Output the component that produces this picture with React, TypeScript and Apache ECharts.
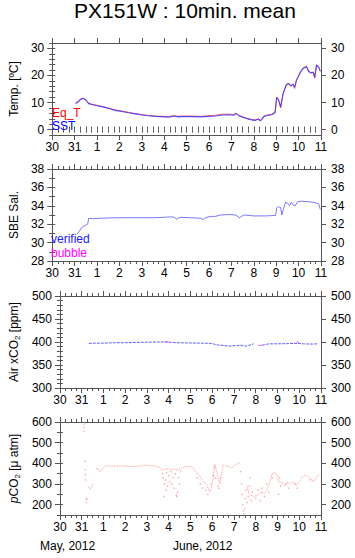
import React, { useEffect, useRef } from 'react';
import * as echarts from 'echarts';

// ---- labels ----
const titleText = 'PX151W : 10min. mean';
const dayLabels = ['30', '31', '1', '2', '3', '4', '5', '6', '7', '8', '9', '10', '11'];
const monthLabels = ['May, 2012', 'June, 2012'];
const tempTicks = [0, 10, 20, 30];
const salTicks = [28, 30, 32, 34, 36, 38];
const airTicks = [300, 350, 400, 450, 500];
const pco2Ticks = [200, 300, 400, 500, 600];

// ---- data: [days since May 30 00:00, value] ----
const sstData: [number, number][] = [
  [1.04, 9.6], [1.15, 10.2], [1.25, 11.0], [1.35, 11.5], [1.45, 11.2], [1.55, 10.5], [1.62, 9.6],
  [1.8, 9.2], [2.0, 8.8], [2.3, 8.3], [2.6, 7.6], [2.8, 7.1], [3.1, 6.7], [3.4, 6.2], [3.7, 5.8],
  [4.0, 5.4], [4.3, 5.1], [4.6, 4.9], [5.0, 4.7], [5.2, 4.6], [5.45, 5.0], [5.6, 4.7], [5.8, 4.8],
  [6.2, 4.8], [6.6, 4.7], [7.0, 4.9], [7.3, 5.0], [7.6, 5.4], [7.9, 5.5], [8.1, 5.3], [8.2, 6.0],
  [8.35, 5.0], [8.5, 4.6], [8.7, 4.0], [8.9, 3.6], [9.05, 3.4], [9.2, 3.8], [9.3, 3.2], [9.45, 4.8],
  [9.6, 5.2], [9.8, 5.5], [9.95, 6.2], [10.02, 11.8], [10.1, 11.2], [10.2, 8.4], [10.3, 13.0],
  [10.45, 16.5], [10.55, 17.0], [10.65, 16.2], [10.75, 16.8], [10.82, 15.6], [10.9, 18.0],
  [11.0, 19.8], [11.1, 21.5], [11.22, 22.7], [11.35, 23.2], [11.45, 21.5], [11.55, 21.0],
  [11.65, 21.2], [11.72, 19.3], [11.8, 23.8], [11.9, 23.0], [11.97, 21.5],
];
const eqTData: [number, number][] = [
  [1.04, 9.8], [1.15, 10.4], [1.25, 11.2], [1.35, 11.6], [1.45, 11.4], [1.55, 10.6], [1.62, 9.8],
  [1.8, 9.3], [2.0, 9.0], [2.3, 8.4], [2.6, 7.8], [2.8, 7.3], [3.1, 6.9], [3.4, 6.4], [3.7, 5.9],
  [4.0, 5.6], [4.3, 5.2], [4.6, 5.0], [5.0, 4.9], [5.2, 4.8], [5.45, 5.2], [5.6, 4.9], [5.8, 5.0],
  [6.2, 5.0], [6.6, 4.9], [7.0, 5.1], [7.3, 5.3], [7.6, 5.7], [7.9, 5.7], [8.1, 5.5], [8.2, 6.1],
  [8.35, 5.2], [8.5, 4.7], [8.7, 4.1], [8.9, 3.8], [9.05, 3.5], [9.2, 4.0], [9.3, 3.4], [9.45, 5.0],
  [9.6, 5.4], [9.8, 5.7], [9.95, 6.4], [10.02, 12.0], [10.1, 11.0], [10.2, 8.0], [10.3, 13.2],
  [10.45, 16.7], [10.55, 17.2], [10.65, 16.0], [10.75, 16.9], [10.82, 15.2], [10.9, 18.2],
  [11.0, 20.0], [11.1, 21.6], [11.22, 22.9], [11.35, 23.4], [11.45, 21.7], [11.55, 20.8],
  [11.65, 21.3], [11.72, 19.0], [11.8, 24.0], [11.9, 23.2], [11.97, 21.6],
];
const salData: [number, number][] = [
  [1.1, 30.9], [1.2, 31.2], [1.3, 31.6], [1.4, 31.8], [1.5, 31.9], [1.58, 32.0], [1.63, 32.65],
  [1.8, 32.6], [2.2, 32.65], [2.8, 32.7], [3.5, 32.7], [4.0, 32.7], [4.5, 32.7], [5.0, 32.75],
  [5.3, 32.8], [5.45, 32.75], [5.55, 32.55], [5.7, 32.75], [6.2, 32.7], [6.6, 32.65], [6.75, 32.5],
  [6.85, 32.7], [7.05, 32.85], [7.3, 32.85], [7.5, 33.0], [7.9, 33.05], [8.2, 33.0], [8.35, 32.7],
  [8.45, 32.85], [8.6, 33.0], [9.0, 32.9], [9.5, 32.9], [9.97, 32.95], [10.03, 33.8], [10.1, 33.9],
  [10.2, 33.8], [10.25, 33.0], [10.32, 33.6], [10.42, 34.4], [10.5, 34.3], [10.6, 34.0],
  [10.68, 34.4], [10.75, 34.1], [10.85, 34.0], [10.95, 34.45], [11.15, 34.5], [11.4, 34.45],
  [11.6, 34.4], [11.8, 34.3], [11.9, 34.2], [11.97, 33.6],
];
const airData: [number, number | null][] = [
  [1.33, 397], [1.6, 397.5], [2.0, 397.5], [2.5, 398.5], [3.0, 398.5], [3.5, 399], [4.0, 399.5],
  [4.5, 400], [4.9, 400], [5.3, 398.5], [5.8, 398], [6.5, 397.5], [7.0, 397], [7.15, 394],
  [7.4, 393], [7.8, 391], [8.0, 392], [8.3, 393], [8.55, 391], [8.7, 393], [8.9, 396],
  [9.05, null], [9.3, 393], [9.4, 394], [9.6, 396], [10.0, 396], [10.5, 396.5], [10.9, 397],
  [11.2, 396], [11.6, 395.5], [11.85, 396],
];
const airBubble: [number, number | null][] = [
  [4.82, 400.5], [4.9, 401], [5.0, 400.5], [5.02, null],
  [9.12, 393], [9.2, 392], [9.3, 393.5], [9.32, null],
  [10.88, 398], [10.93, 401], [10.98, 398],
];
const pco2Line: [number, number | null][] = [
  [1.3, 285], [1.38, 275], [1.45, 285], [1.52, 300], [1.58, null],
  [1.66, 375], [1.75, 374], [1.85, 358], [1.95, 372], [2.05, 384], [2.15, 388], [2.4, 386],
  [2.7, 388], [3.0, 387], [3.3, 384], [3.6, 386], [3.85, 391], [4.1, 388], [4.4, 387], [4.6, 381],
  [4.7, 365], [4.85, 372], [5.0, 375], [5.1, 370], [5.3, 372], [5.45, 368], [5.6, 378], [5.75, 383],
  [5.9, 385], [6.1, 383], [6.24, 359], [6.39, 343], [6.5, 325], [6.61, 310], [6.75, 294],
  [6.82, 275], [6.9, 261], [7.0, 300], [7.12, 395], [7.2, 360], [7.3, 320], [7.35, 300],
  [7.42, 350], [7.5, 390], [7.7, 387], [7.9, 378], [8.05, 392], [8.2, 400], [8.3, 405], [8.33, null],
  [8.6, 290], [8.7, 250], [8.9, 240], [9.1, 245], [9.25, 260], [9.4, 255], [9.55, 280], [9.68, 320],
  [9.76, 350], [9.9, 355], [10.0, 340], [10.05, 310], [10.2, 310], [10.34, 290], [10.49, 310],
  [10.6, 300], [10.71, 310], [10.86, 295], [11.0, 310], [11.1, 330], [11.22, 343], [11.35, 338],
  [11.44, 335], [11.55, 325], [11.66, 310], [11.75, 325], [11.88, 343], [11.97, 335],
];
const pco2Scatter: [number, number][] = [
  [1.1, 590], [1.1, 575], [1.11, 555], [1.15, 410], [1.17, 370], [1.17, 345], [1.18, 320],
  [1.2, 230], [1.22, 210], [1.25, 225],
  [4.72, 350], [4.75, 330], [4.78, 240], [4.8, 300], [4.85, 320], [4.88, 270], [4.9, 355],
  [4.95, 290], [5.0, 340], [5.05, 310], [5.1, 360], [5.15, 300], [5.2, 330], [5.25, 280],
  [5.3, 350], [5.35, 245], [5.37, 240], [5.4, 260], [5.45, 330], [5.5, 300], [5.55, 360],
  [6.3, 330], [6.45, 300], [6.55, 280], [6.7, 270], [6.8, 250], [6.95, 300], [7.05, 340],
  [7.1, 380], [7.15, 330], [7.25, 290], [7.3, 280], [7.4, 330],
  [8.3, 360], [8.35, 300], [8.38, 250], [8.4, 200], [8.42, 170], [8.45, 155], [8.5, 180],
  [8.52, 230], [8.55, 270], [8.6, 210], [8.65, 240], [8.7, 290], [8.75, 330], [8.8, 220],
  [8.85, 260], [9.0, 230], [9.1, 270], [9.2, 220], [9.3, 280], [9.4, 240], [9.5, 300], [9.6, 260],
  [9.75, 330], [10.05, 250], [10.1, 330], [10.15, 290], [10.4, 300], [10.5, 280], [10.8, 300],
  [10.9, 280], [11.5, 320],
];

const FONT = '"Liberation Sans", Arial, Helvetica, sans-serif';
const AX = '#555';

function range(a: number, b: number, s: number) {
  const r: number[] = [];
  for (let v = a; v <= b + 1e-9; v += s) r.push(Math.round(v * 1000) / 1000);
  return r;
}

const grids = [
  { top: 43, height: 92 },
  { top: 169, height: 92 },
  { top: 296, height: 92 },
  { top: 422, height: 93 },
];

const yDefs = [
  { min: -2, max: 32, major: tempTicks, minor: range(-2, 32, 2), name: 'Temp. [ºC]' },
  { min: 28, max: 38, major: salTicks, minor: range(28, 38, 1), name: 'SBE Sal.' },
  { min: 300, max: 500, major: airTicks, minor: range(300, 500, 10), name: 'Air xCO{sub|2} [ppm]' },
  { min: 150, max: 600, major: pco2Ticks, minor: range(150, 600, 50), name: '{it|p}CO{sub|2} [μ atm]' },
];

export default function App() {
  const ref = useRef<HTMLDivElement>(null);
  useEffect(() => {
    if (!ref.current) return;
    const chart = echarts.init(ref.current, null, { renderer: 'svg' });
    const majorDays = range(0, 12, 1);
    const minorDays = range(0, 12, 0.25);
    const xAxis: any[] = [];
    const yAxis: any[] = [];
    const lineStyle = { color: AX, width: 1 };
    grids.forEach((g, gi) => {
      (['bottom', 'top'] as const).forEach((pos) => {
        xAxis.push({
          type: 'value', gridIndex: gi, position: pos, min: 0, max: 12,
          axisLine: { show: true, onZero: false, lineStyle },
          axisTick: { show: true, customValues: majorDays, length: 5, lineStyle },
          axisLabel: {
            show: pos === 'bottom', customValues: majorDays, margin: 6,
            formatter: (v: number) => dayLabels[Math.round(v)] ?? '',
            color: '#000', fontFamily: FONT, fontSize: 12,
          },
          splitLine: { show: false },
        });
        xAxis.push({
          type: 'value', gridIndex: gi, position: pos, min: 0, max: 12,
          axisLine: { show: false },
          axisTick: { show: true, customValues: minorDays, length: 3, lineStyle },
          axisLabel: { show: false },
          splitLine: { show: false },
        });
      });
      const d = yDefs[gi];
      (['left', 'right'] as const).forEach((pos) => {
        yAxis.push({
          type: 'value', gridIndex: gi, position: pos, min: d.min, max: d.max,
          axisLine: { show: true, onZero: false, lineStyle },
          axisTick: { show: true, customValues: d.major, length: 5, lineStyle },
          axisLabel: {
            show: true, customValues: d.major, margin: pos === 'left' ? 8 : 10,
            color: '#000', fontFamily: FONT, fontSize: 12,
          },
          splitLine: { show: false },
          name: pos === 'left' ? d.name : '',
          nameLocation: 'middle', nameGap: 31, nameRotate: 90,
          nameTextStyle: {
            color: '#000', fontFamily: FONT, fontSize: 12,
            rich: {
              sub: { fontSize: 8, fontFamily: FONT, color: '#000', padding: [6, 0, 0, 0] },
              it: { fontSize: 12, fontFamily: FONT, color: '#000', fontStyle: 'italic' },
            },
          },
        });
        yAxis.push({
          type: 'value', gridIndex: gi, position: pos, min: d.min, max: d.max,
          axisLine: { show: false },
          axisTick: { show: true, customValues: d.minor, length: 3, lineStyle },
          axisLabel: { show: false },
          splitLine: { show: false },
        });
      });
    });

    const ln = (gi: number, data: any[], color: string, width = 1, opacity = 1, z = 2, type: any = 'solid') => ({
      type: 'line', xAxisIndex: gi * 4, yAxisIndex: gi * 4, data, showSymbol: false,
      connectNulls: false, z,
      lineStyle: { color, width, opacity, type },
    });

    const option: any = {
      animation: false,
      grid: grids.map((g) => ({ left: 48, right: 34, top: g.top, height: g.height })),
      xAxis, yAxis,
      series: [
        ln(0, eqTData, '#ff3030', 1, 0.8, 2),
        ln(0, sstData, '#3a3aff', 1.1, 0.85, 3),
        ln(1, salData, '#6a6aff', 1, 0.9),
        ln(2, airData, '#5050ff', 1, 0.9, 2, [3, 1]),
        ln(2, airBubble, '#ff40ff', 1, 0.9, 3),
        ln(3, pco2Line, '#ff6a6a', 1, 0.6, 2, [1.5, 1]),
        {
          type: 'scatter', xAxisIndex: 12, yAxisIndex: 12, data: pco2Scatter,
          symbolSize: 1.5, itemStyle: { color: '#ff8a8a', opacity: 0.75 },
        },
      ],
      graphic: [
        { type: 'text', x: 185, y: 0, style: { text: titleText, fill: '#000', font: `21px ${FONT}`, textAlign: 'center', textVerticalAlign: 'top' } },
        { type: 'text', x: 52, y: 113, z: 10, style: { text: 'Eq_T', fill: '#ff0000', font: `12px ${FONT}`, textVerticalAlign: 'middle' } },
        { type: 'text', x: 52, y: 126, z: 10, style: { text: 'SST', fill: '#0000ff', font: `12px ${FONT}`, textVerticalAlign: 'middle' } },
        { type: 'text', x: 51, y: 239, z: 10, style: { text: 'verified', fill: '#2020ff', font: `12px ${FONT}`, textVerticalAlign: 'middle' } },
        { type: 'text', x: 51, y: 253, z: 10, style: { text: 'bubble', fill: '#ff00ff', font: `12px ${FONT}`, textVerticalAlign: 'middle' } },
        { type: 'text', x: 40, y: 546, style: { text: monthLabels[0], fill: '#000', font: `12px ${FONT}`, textVerticalAlign: 'middle' } },
        { type: 'text', x: 173, y: 546, style: { text: monthLabels[1], fill: '#000', font: `12px ${FONT}`, textVerticalAlign: 'middle' } },
      ],
    };
    chart.setOption(option);
    return () => chart.dispose();
  }, []);
  return (
    <div
      ref={ref}
      style={{ position: 'fixed', left: 0, top: 0, width: 355, height: 558, background: '#fff' }}
    />
  );
}
